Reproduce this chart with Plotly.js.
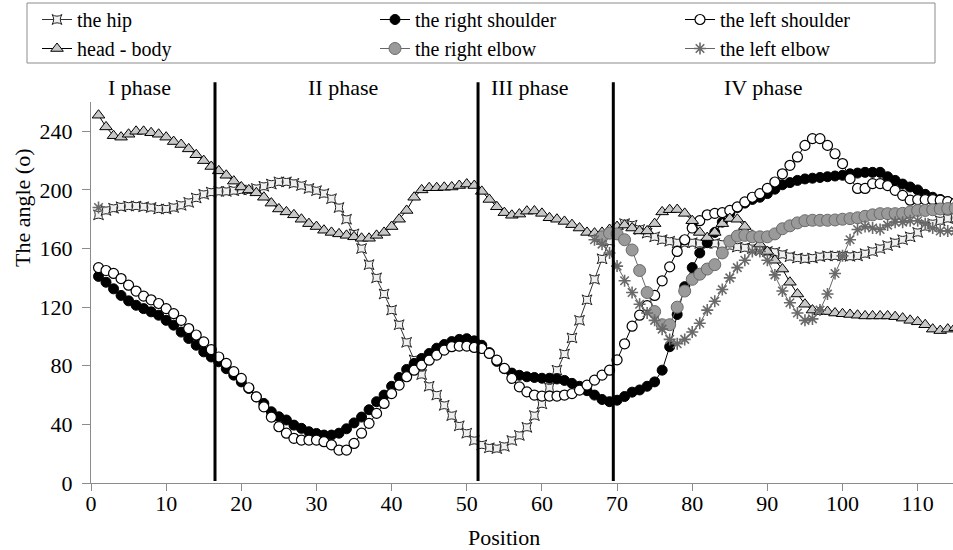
<!DOCTYPE html>
<html>
<head>
<meta charset="utf-8">
<script src="https://cdn.plot.ly/plotly-3.0.1.min.js"></script>
<style>html,body{margin:0;padding:0;background:#fff;}#chart{width:953px;height:550px;}</style>
</head>
<body>
<div id="chart"></div>
<script>
// Positions 1..115
const positions = Array.from({length: 115}, (_, i) => i + 1);

const hip = [183,186,187.5,188.5,189,189,188.5,188,187,187,188,189.5,191.5,194.5,197,198.5,199,199,199.5,200,
200,201,202.5,204,205.5,205.5,204.5,203,201,199.5,197.5,194,188,180,170,160,149,140,129,118,
108,96,84,74,66,60,53,46,39,34,29,26,24,23.5,25,29,32.5,38,46,54,
65,77,88,99,111,125,139,153,165,173,177,176,173,170.5,168,166,165,164,164,164,
163.5,163.5,163.5,163,162,161,160.5,160,159,158,157.5,156,154.5,153.5,153,153.5,154.5,155,155,155,
154.7,155,156.5,158,160,162,164,166,168,171,175,177,179,180.5,181];

const rightShoulder = [141,137,132.5,128,124.3,121.3,119,116.8,114.5,111,107.7,103,98.6,94,89.5,86,82.7,78,73.6,69,
64.5,58.8,54.3,48.6,45.2,43,39.5,37.3,35,33.8,32.7,32.7,34,37,41,45,50,55.5,60,66,
72,77.5,81.6,85,88.4,92,94.5,96.5,98,98.5,97,94,89,83,78,75,73.5,72.5,72,71.5,
71.5,71,70,68,66,63,60,57,55.5,56.5,59,62,63.5,66,69,77,93,115,134,147,
157,164,171,178,184,188,191,193.5,195,197.5,200.5,203.5,205,206.5,207.5,208,208.5,209,209.5,210,
211,211.5,212,212,212,209,206.5,204,202,200,197,195,193.5,192,191];

const leftShoulder = [147,145,143,139.5,135,131,127.5,125,122.5,119,115.6,111,105.4,101,96.3,91,86,81.6,76,71.4,
65,58.8,52,45,38.4,34,30.5,29.3,29.3,29.3,28.2,26,22.5,22.5,27,34,40.7,47.5,54.3,61,
66.8,72.5,77,80.4,83.8,87.3,90.7,93,93.4,93.4,92.5,91.8,88.4,83.8,78.2,71.4,65.6,62.2,60,59.3,
59.3,59.3,60,61,63.4,66.8,70.2,73.6,77,84,95,107,114.5,121,128,138,147.5,158,166,174,
179,183,184,184.5,186,188.4,191.8,195,197.5,201,205.4,211,216.8,222.5,230.4,235,235,230.4,224.7,218,
207.7,201,201,204.3,204.3,203,199.7,196.3,193,193.4,193.4,193.4,193,192,191];

const headBody = [251,243,237,236,238,240,240,239,238,236,233,231,228,224,220,216,213,210,206,202,
200,198,195,191,187,185,183,180,177,175,172.5,171,170,169,168,167,167,169,171,175,
180,186,195,200,201.5,201.5,201.8,202,203,204,203,199,193.5,188.5,184.5,182.7,183.5,185.5,185.6,184,
181,180,178.5,176.3,174,171,170.5,171,173,175,176,174,172,172,177,185,186.5,186.6,184,179,
171,167.5,171,177,180.5,180,175,169,163,158,152,146,137,129,122,118,117,117,116,115.5,
115,114.5,114,114,114,114,113.5,112.5,111,110,108,105,104,105,106];

const rightElbowTail = [168,170.5,170,166,159,145,130,117,108,108,120,131,139,142.5,146,149,157,165,168.5,169,
168,168,168,170,173.5,175.5,177.5,179,179.3,179.3,179.3,179.5,180,180.4,181,182,183,183.8,183.8,183.8,
184,185,186,186,186.5,187,187.3,187.5];
const rightElbowStart = 68;

const leftElbowFirst = 188;
const leftElbowTail = [166,163,157,148,138,130,122,116,111,105,98,95,98,103,109,118,124,132,140,147,
152,158,158,152,142,131,123,116,111,112,118,129,143,155,166,173,175,174,173,176,
178,178,179,179,177,174,172,172,172];
const leftElbowStart = 67;

const phaseLines = [16.5, 51.5, 69.5];
const phaseLabels = ['I phase', 'II phase', 'III phase', 'IV phase'];
const phaseLabelX = [6.5, 33.5, 58.4, 89.4];

const yTicks = [0, 40, 80, 120, 160, 200, 240];
const xTicks = [0, 10, 20, 30, 40, 50, 60, 70, 80, 90, 100, 110];

// build sparse series
const reY = positions.map(p => (p >= rightElbowStart && p - rightElbowStart < rightElbowTail.length) ? rightElbowTail[p - rightElbowStart] : null);
const leY = positions.map(p => {
  if (p === 1) return leftElbowFirst;
  if (p >= leftElbowStart && p - leftElbowStart < leftElbowTail.length) return leftElbowTail[p - leftElbowStart];
  return null;
});

const FONT = 'Liberation Serif';
const W = 862, H = 381, L = 91, B = 483; // plot area in px
const px2x = px => (px - L) / W;
const px2y = py => (B - py) / H;

const traces = [
  {name: 'the hip', legend: 'legend', x: positions, y: hip, mode: 'lines+markers',
   line: {color: '#333', width: 1},
   marker: {symbol: 'star-square', size: 9, color: '#f0f0f0', line: {color: '#222', width: 1}}},
  {name: 'the right shoulder', legend: 'legend2', x: positions, y: rightShoulder, mode: 'lines+markers',
   line: {color: '#000', width: 1},
   marker: {symbol: 'circle', size: 10, color: '#000', line: {color: '#000', width: 1}}},
  {name: 'the left shoulder', legend: 'legend3', x: positions, y: leftShoulder, mode: 'lines+markers',
   line: {color: '#000', width: 1},
   marker: {symbol: 'circle', size: 10, color: '#fff', line: {color: '#000', width: 1.2}}},
  {name: 'head - body', legend: 'legend', x: positions, y: headBody, mode: 'lines+markers',
   line: {color: '#000', width: 1},
   marker: {symbol: 'triangle-up', size: 11, color: '#c8c8c8', line: {color: '#000', width: 1}}},
  {name: 'the right elbow', legend: 'legend2', x: positions, y: reY, mode: 'lines+markers',
   line: {color: '#666', width: 1},
   marker: {symbol: 'circle', size: 12, color: '#9a9a9a', line: {color: '#6a6a6a', width: 1}}},
  {name: 'the left elbow', legend: 'legend3', x: positions, y: leY, mode: 'lines+markers',
   line: {color: '#666', width: 1},
   marker: {symbol: 'asterisk-open', size: 10, color: '#6a6a6a', line: {color: '#6a6a6a', width: 1.6}}}
];

const shapes = phaseLines.map(x => ({
  type: 'line', xref: 'x', yref: 'paper', x0: x, x1: x, y0: 0.005, y1: 1.052,
  line: {color: '#000', width: 3}, layer: 'above'
}));
// legend frame
shapes.push({type: 'rect', xref: 'paper', yref: 'paper',
  x0: px2x(27), x1: px2x(935), y0: px2y(63), y1: px2y(3),
  line: {color: '#8c8c8c', width: 1}, fillcolor: 'rgba(0,0,0,0)', layer: 'above'});

const annotations = phaseLabels.map((t, i) => ({
  text: t, x: phaseLabelX[i], xref: 'x', y: px2y(87), yref: 'paper',
  showarrow: false, xanchor: 'center', yanchor: 'middle',
  font: {family: FONT, size: 22, color: '#000'}
}));
annotations.push({
  text: 'The angle (o)', textangle: -90, xref: 'paper', yref: 'paper',
  x: px2x(22), y: px2y(208), showarrow: false,
  xanchor: 'center', yanchor: 'middle', font: {family: FONT, size: 22, color: '#000'}
});
annotations.push({
  text: 'Position', xref: 'paper', yref: 'paper',
  x: px2x(504), y: px2y(537), showarrow: false,
  xanchor: 'center', yanchor: 'middle', font: {family: FONT, size: 22, color: '#000'}
});

const legendBase = {
  orientation: 'v', xanchor: 'left', y: px2y(0), yanchor: 'top',
  borderwidth: 0, bgcolor: 'rgba(0,0,0,0)', tracegroupgap: 0,
  font: {family: FONT, size: 20, color: '#000'}, itemwidth: 30
};

const layout = {
  width: 953, height: 550,
  margin: {l: L, r: 0, t: 102, b: 67},
  paper_bgcolor: '#fff', plot_bgcolor: '#fff',
  font: {family: FONT, size: 22, color: '#000'},
  showlegend: true,
  legend: Object.assign({}, legendBase, {x: px2x(37)}),
  legend2: Object.assign({}, legendBase, {x: px2x(375)}),
  legend3: Object.assign({}, legendBase, {x: px2x(680)}),
  xaxis: {
    range: [0, 114.7], tickmode: 'array', tickvals: xTicks, ticktext: xTicks.map(String),
    showline: true, linecolor: '#8c8c8c', linewidth: 1, ticks: 'outside', ticklen: 7,
    tickcolor: '#8c8c8c', showgrid: false, zeroline: false, ticklabelstandoff: -6,
    tickfont: {family: FONT, size: 22, color: '#000'}
  },
  yaxis: {
    range: [0, 260], tickmode: 'array', tickvals: yTicks, ticktext: yTicks.map(String),
    showline: true, linecolor: '#8c8c8c', linewidth: 1, ticks: 'outside', ticklen: 8,
    tickcolor: '#8c8c8c', showgrid: false, zeroline: false,
    tickfont: {family: FONT, size: 22, color: '#000'}, ticklabelstandoff: 5
  },
  shapes: shapes,
  annotations: annotations
};

Plotly.newPlot('chart', traces, layout, {displayModeBar: false, staticPlot: true});
</script>
</body>
</html>
